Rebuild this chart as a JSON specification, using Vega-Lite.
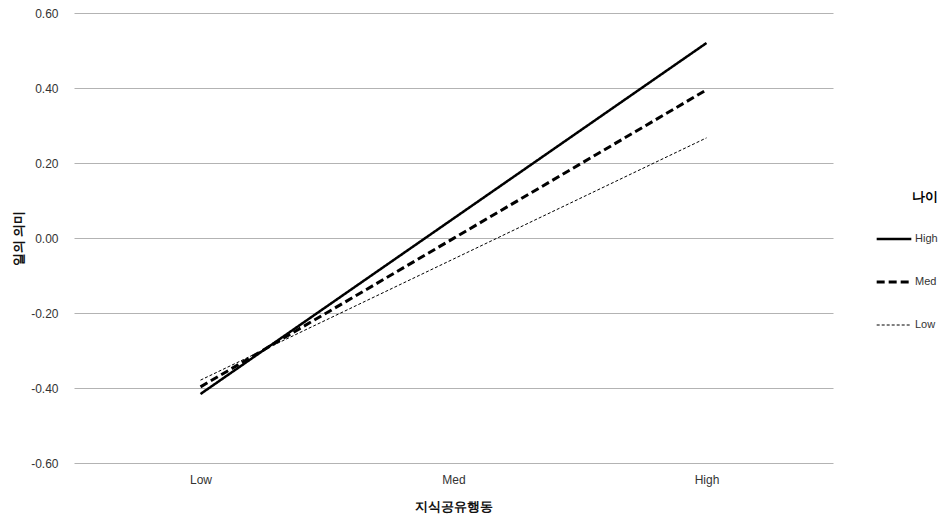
{
  "$schema": "https://vega.github.io/schema/vega-lite/v6.json",
  "width": 759,
  "height": 450,
  "autosize": {"type": "none"},
  "padding": {"left": 74, "top": 13, "right": 107, "bottom": 57},
  "background": "white",
  "config": {
    "view": {"stroke": null},
    "font": "Liberation Sans",
    "axis": {"labelFont": "Liberation Sans", "titleFont": "Liberation Sans", "labelColor": "#333", "titleColor": "#111"}
  },
  "data": {
    "values": [
      {"x": "Low", "group": "High", "y": -0.416},
      {"x": "Med", "group": "High", "y": 0.052},
      {"x": "High", "group": "High", "y": 0.52},
      {"x": "Low", "group": "Med", "y": -0.397},
      {"x": "Med", "group": "Med", "y": -0.001},
      {"x": "High", "group": "Med", "y": 0.395},
      {"x": "Low", "group": "Low", "y": -0.379},
      {"x": "Med", "group": "Low", "y": -0.056},
      {"x": "High", "group": "Low", "y": 0.267}
    ]
  },
  "mark": {"type": "line", "color": "black", "strokeCap": "butt"},
  "encoding": {
    "x": {
      "field": "x", "type": "ordinal", "sort": ["Low", "Med", "High"],
      "scale": {"type": "point", "padding": 0.5},
      "axis": {"title": "지식공유행동", "labelAngle": 0, "domain": false, "ticks": false, "grid": false,
        "labelFontSize": 12, "labelPadding": 11, "titleFontSize": 13, "titleFontWeight": "bold", "titlePadding": 15}
    },
    "y": {
      "field": "y", "type": "quantitative",
      "scale": {"domain": [-0.6, 0.6], "nice": false, "zero": false},
      "axis": {"title": "일의 의미", "values": [-0.6, -0.4, -0.2, 0, 0.2, 0.4, 0.6],
        "labelExpr": "replace(format(datum.value, '.2f'), '\u2212', '-')",
        "domain": false, "ticks": false, "grid": true, "gridColor": "#b3b3b3", "gridWidth": 1,
        "labelFontSize": 12, "labelPadding": 16, "titleFontSize": 13, "titleFontWeight": "bold", "titlePadding": 5}
    },
    "strokeDash": {
      "field": "group", "type": "nominal",
      "scale": {"domain": ["High", "Med", "Low"], "range": [[1, 0], [8, 4], [3, 2]]},
      "legend": {"title": "나이", "orient": "none", "legendX": 801, "legendY": 178,
        "symbolType": "stroke", "symbolSize": 1200, "symbolStrokeColor": "black",
        "titleFontSize": 13, "titleFontWeight": "bold", "titleAnchor": "end", "titlePadding": 16,
        "labelFontSize": 11, "labelColor": "#333", "labelOffset": 2, "rowPadding": 19,
        "encode": {"symbols": {"update": {"strokeWidth": {"signal": "datum.value === 'Low' ? 1 : 2.5"}}}}}
    },
    "strokeWidth": {
      "field": "group", "type": "ordinal",
      "scale": {"type": "ordinal", "domain": ["High", "Med", "Low"], "range": [2.5, 3, 1]},
      "legend": null
    }
  }
}
